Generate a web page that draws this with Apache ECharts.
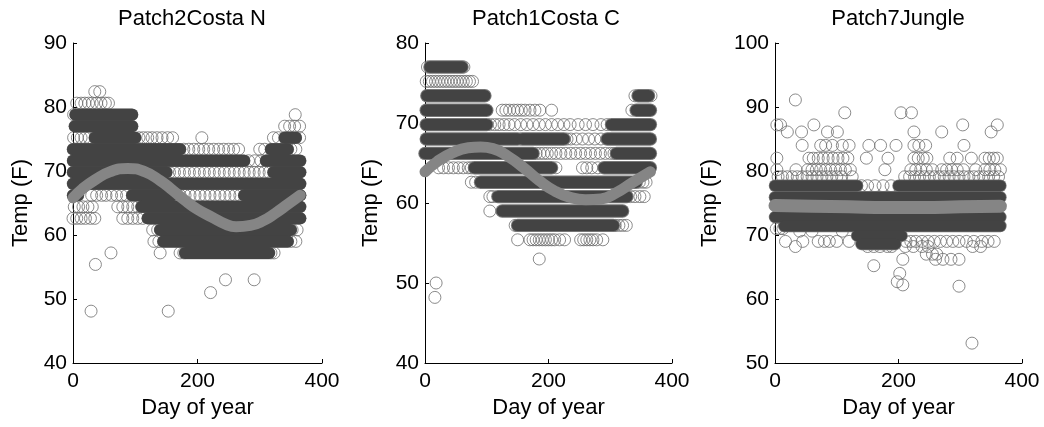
<!DOCTYPE html>
<html>
<head>
<meta charset="utf-8">
<script src="https://cdn.jsdelivr.net/npm/echarts@6/dist/echarts.min.js"></script>
<style>
  html, body { margin: 0; padding: 0; background: #fff; }
  #chart { width: 1044px; height: 427px; }
</style>
</head>
<body>
<div id="chart"></div>
<script>
// panel titles and axis ranges
const titles = ['Patch2Costa N', 'Patch1Costa C', 'Patch7Jungle'];
const yMin = [40, 40, 50];
const yMax = [90, 80, 100];
const xMax = 400;

// dense rows of readings: [temp, first day, last day]
const p1Bands = [
  [78.8, 4, 95], [77.0, 3, 95], [75.2, 35, 100], [75.2, 340, 358],
  [73.4, 0, 172], [73.4, 318, 345], [71.6, 0, 275], [71.6, 310, 365],
  [69.8, 0, 150], [69.8, 322, 365], [68.0, 0, 365],
  [66.2, 0, 8], [66.2, 95, 160], [66.2, 275, 365],
  [64.4, 110, 365], [62.6, 120, 365], [60.8, 140, 350], [59.0, 145, 345], [57.2, 180, 315]
];
const p2Bands = [
  [77.0, 8, 60], [73.4, 3, 97], [73.4, 345, 362], [71.6, 2, 100], [71.6, 342, 365],
  [69.8, 2, 100], [69.8, 302, 365], [68.0, 2, 150], [68.0, 158, 225], [68.0, 295, 365],
  [66.2, 0, 175], [66.2, 310, 365], [64.4, 80, 205], [64.4, 290, 365],
  [62.6, 90, 342], [60.8, 118, 327], [59.0, 125, 320], [57.2, 150, 305]
];
const p3Bands = [
  [77.7, 0, 133], [77.7, 200, 365], [75.9, 0, 365], [72.8, 0, 365],
  [71.4, 15, 365], [69.9, 133, 205], [68.6, 140, 195]
];

// single readings: [temp, [days]]
const p1Rings = [
  [82.4, [35, 43]],
  [80.6, [6, 13, 19, 25, 31, 38, 45, 52, 57]],
  [78.8, [1, 357]],
  [77.0, [340, 348, 356, 364]],
  [75.2, [1, 7, 13, 19, 26, 106, 113, 120, 127, 135, 143, 152, 160, 207, 322, 330, 364]],
  [73.4, [178, 186, 194, 202, 210, 218, 226, 234, 242, 250, 258, 266, 300, 308, 350, 358]],
  [71.6, [282, 292, 302]],
  [69.8, [155, 163, 171, 179, 187, 195, 203, 211, 219, 227, 235, 243, 251, 259, 267, 275, 283, 291, 299, 307, 315]],
  [66.2, [30, 38, 46, 53, 62, 70, 78, 86, 165, 172, 180, 188, 196, 204, 212, 220, 228, 236, 244, 252, 260, 268]],
  [64.4, [2, 9, 16, 24, 31, 72, 80, 88, 96, 104]],
  [62.6, [0, 6, 13, 20, 28, 35, 80, 88, 96, 104, 112]],
  [60.8, [128, 136, 352, 360]],
  [59.0, [130, 138, 350, 358]],
  [57.2, [61, 140, 172, 178, 318, 323]],
  [55.4, [36]],
  [53.0, [245, 291]],
  [51.0, [221]],
  [48.1, [29, 153]]
];
const p2Rings = [
  [77.0, [4, 63]],
  [75.2, [2, 7, 12, 17, 22, 27, 32, 37, 42, 47, 52, 57, 62, 67, 72, 77]],
  [73.4, [340, 366]],
  [71.6, [125, 131, 137, 144, 150, 156, 162, 170, 178, 186, 205, 335]],
  [69.8, [106, 113, 120, 128, 136, 145, 155, 165, 175, 185, 195, 205, 215, 225, 235, 248, 260, 272, 285, 295]],
  [68.0, [155, 230, 236, 245, 255, 265, 275, 285]],
  [66.2, [180, 186, 192, 198, 205, 212, 220, 228, 236, 244, 252, 260, 268, 276, 284, 292, 300, 306]],
  [64.4, [22, 30, 38, 46, 54, 62, 70, 75, 212, 255, 262, 270, 280]],
  [62.6, [75, 82, 347, 353, 358]],
  [60.8, [105, 110, 333, 340, 348, 355]],
  [59.0, [105]],
  [57.2, [146, 308, 314, 320, 326]],
  [55.4, [150, 170, 175, 180, 185, 190, 195, 200, 205, 210, 218, 226, 252, 257, 262, 267, 272, 278, 288]],
  [53.0, [185]],
  [50.0, [18]],
  [48.2, [16]]
];
const p3Rings = [
  [91.1, [33]],
  [89.1, [113, 204, 221]],
  [87.2, [3, 9, 63, 304, 360]],
  [86.1, [20, 43, 85, 101, 225, 270, 350]],
  [84.0, [44, 74, 82, 93, 109, 120, 152, 171, 196, 225, 233, 244, 306]],
  [82.0, [3, 55, 62, 70, 78, 86, 94, 102, 110, 118, 148, 183, 225, 232, 240, 246, 283, 295, 318, 340, 347, 354, 360]],
  [80.2, [3, 34, 53, 60, 67, 74, 82, 90, 98, 106, 114, 122, 178, 220, 228, 236, 245, 255, 270, 278, 286, 295, 305, 325, 340, 348, 356, 365]],
  [79.1, [5, 12, 20, 28, 36, 44, 52, 60, 68, 76, 84, 92, 100, 108, 125, 210, 218, 226, 234, 242, 250, 258, 266, 274, 282, 290, 298, 306, 314, 322, 330, 338, 346, 354, 362]],
  [77.7, [140, 150, 162, 175, 188]],
  [71.0, [2, 8, 13]],
  [70.6, [40, 60, 109]],
  [69.0, [17, 45, 70, 80, 88, 100, 120, 212, 220, 228, 238, 248, 258, 268, 278, 288, 298, 310, 322, 335, 345, 355]],
  [68.2, [33, 150, 160, 170, 182, 189, 211, 224, 238, 248, 320, 333]],
  [67.0, [245, 255, 262]],
  [66.2, [207, 260, 272, 285, 298]],
  [65.2, [160]],
  [64.0, [202]],
  [62.7, [198]],
  [62.2, [207]],
  [62.0, [298]],
  [53.1, [319]]
];

// fitted seasonal curve: [day, temp]
const p1Fit = [[0, 65.8], [15, 67.2], [35, 68.6], [60, 69.9], [88, 70.4], [115, 69.9], [140, 68.5],
  [160, 67.0], [180, 65.4], [200, 64.0], [223, 62.8], [245, 61.7], [262, 61.3], [285, 61.5],
  [305, 62.2], [325, 63.4], [345, 64.8], [365, 66.2]];
const p2Fit = [[0, 63.9], [20, 65.2], [45, 66.3], [70, 66.9], [90, 67.0], [110, 66.8], [135, 65.8],
  [160, 64.4], [185, 62.8], [210, 61.5], [235, 60.7], [260, 60.4], [285, 60.5], [310, 61.3],
  [335, 62.5], [365, 63.9]];
const p3Fit = [[0, 74.6], [60, 74.5], [120, 74.4], [180, 74.3], [240, 74.3], [300, 74.4], [365, 74.5]];

const bands = [p1Bands, p2Bands, p3Bands];
const rings = [p1Rings, p2Rings, p3Rings];
const fits = [p1Fit, p2Fit, p3Fit];

const gridLeft = [73, 425, 775];
const gridWidth = [249, 247, 247];
const titleX = [192, 546, 898];
const yNameGap = [41, 43, 54];
const rimWidth = [12.5, 13.4, 12.5];
const fillWidth = [12, 11.4, 11];
const FONT = 'Liberation Sans';

function ringPoints(rows) {
  let out = [];
  rows.forEach(function (r) {
    r[1].forEach(function (d) { out.push([d, r[0]]); });
  });
  return out;
}

function bandRender(width, color) {
  return function (params, api) {
    let a = api.coord([api.value(1), api.value(0)]);
    let b = api.coord([api.value(2), api.value(0)]);
    return {
      type: 'line',
      shape: { x1: a[0], y1: a[1], x2: b[0], y2: b[1] },
      style: { stroke: color, lineWidth: width, lineCap: 'round', fill: null }
    };
  };
}

let grids = [], xAxes = [], yAxes = [], series = [];
for (let i = 0; i < 3; i++) {
  grids.push({ left: gridLeft[i], top: 43, width: gridWidth[i], height: 320 });
  xAxes.push({
    type: 'value', gridIndex: i, min: 0, max: xMax, interval: 200,
    name: 'Day of year', nameLocation: 'middle', nameGap: 34,
    nameTextStyle: { color: '#000', fontSize: 22, fontFamily: FONT },
    axisLine: { show: true, onZero: false, lineStyle: { color: '#000', width: 1 } },
    axisTick: { show: true, inside: true, length: 4, lineStyle: { color: '#000' } },
    axisLabel: { color: '#000', fontSize: 21, fontFamily: FONT, margin: 8 },
    splitLine: { show: false }
  });
  yAxes.push({
    type: 'value', gridIndex: i, min: yMin[i], max: yMax[i], interval: 10,
    name: 'Temp (F)', nameLocation: 'middle', nameGap: yNameGap[i],
    nameTextStyle: { color: '#000', fontSize: 22, fontFamily: FONT },
    axisLine: { show: true, onZero: false, lineStyle: { color: '#000', width: 1 } },
    axisTick: { show: true, inside: true, length: 4, lineStyle: { color: '#000' } },
    axisLabel: { color: '#000', fontSize: 21, fontFamily: FONT, margin: 6 },
    splitLine: { show: false }
  });
  series.push({
    type: 'scatter', xAxisIndex: i, yAxisIndex: i, data: ringPoints(rings[i]),
    symbol: 'circle', symbolSize: 12, silent: true, z: 2,
    itemStyle: { color: 'rgba(0,0,0,0)', borderColor: '#6e6e6e', borderWidth: 1 }
  });
  series.push({
    type: 'custom', xAxisIndex: i, yAxisIndex: i, data: bands[i],
    encode: { x: [1, 2], y: 0 }, silent: true, z: 3,
    renderItem: bandRender(rimWidth[i], '#777777')
  });
  series.push({
    type: 'custom', xAxisIndex: i, yAxisIndex: i, data: bands[i],
    encode: { x: [1, 2], y: 0 }, silent: true, z: 4,
    renderItem: bandRender(fillWidth[i], '#434343')
  });
  series.push({
    type: 'line', xAxisIndex: i, yAxisIndex: i, data: fits[i], smooth: true,
    symbol: 'none', clip: false, silent: true, z: 5,
    lineStyle: { color: '#858585', width: i === 2 ? 13 : 11, cap: 'round' }
  });
}

let myChart = echarts.init(document.getElementById('chart'));
myChart.setOption({
  animation: false,
  backgroundColor: '#fff',
  grid: grids,
  xAxis: xAxes,
  yAxis: yAxes,
  graphic: titles.map(function (t, i) {
    return {
      type: 'text', x: titleX[i], y: 19,
      style: { text: t, fill: '#000', fontSize: 22, fontFamily: FONT, align: 'center', verticalAlign: 'middle' }
    };
  }),
  series: series
});
</script>
</body>
</html>
